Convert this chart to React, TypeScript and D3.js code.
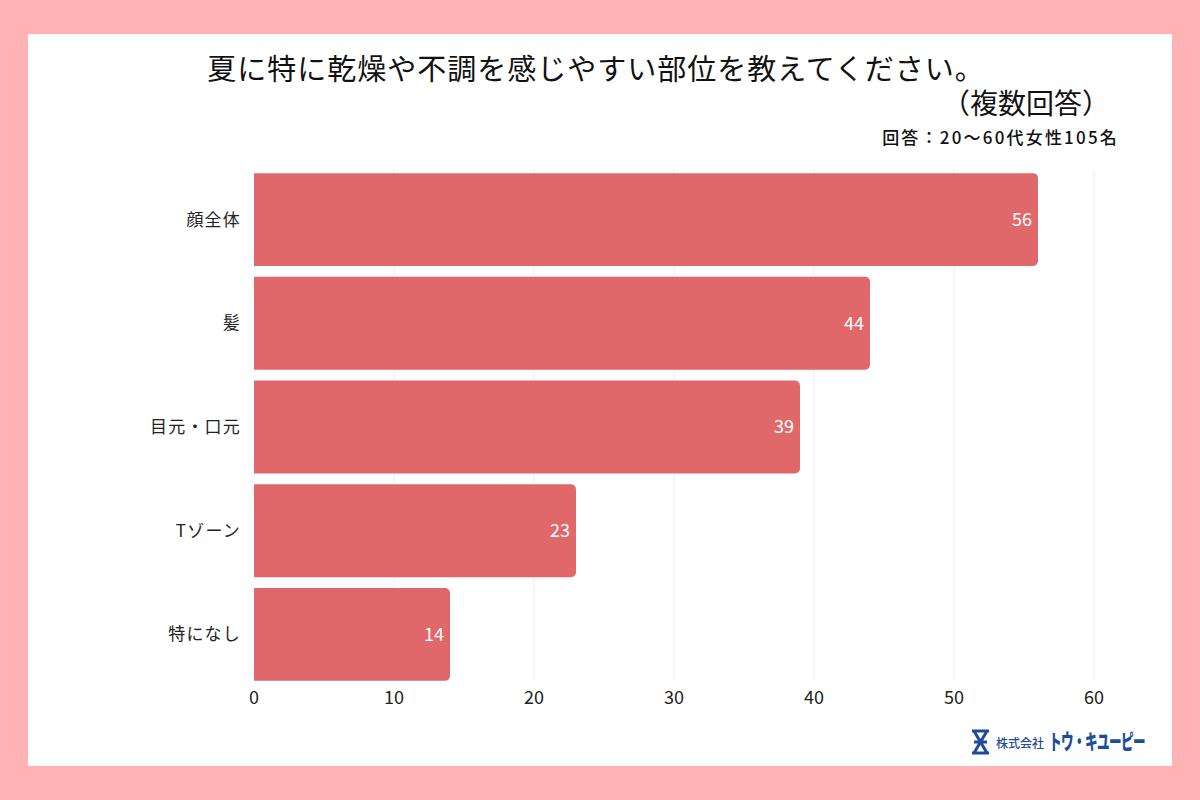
import * as React from "react";
import * as d3 from "d3";

const categories = ["顔全体", "髪", "目元・口元", "Tゾーン", "特になし"];
const counts = [56, 44, 39, 23, 14];
const xTicks = [0, 10, 20, 30, 40, 50, 60];

const title = "夏に特に乾燥や不調を感じやすい部位を教えてください。";
const subtitle = "（複数回答）";
const note = "回答：20〜60代女性105名";

const W = 1200;
const H = 800;
const font = '"Noto Sans CJK JP", "Noto Sans", sans-serif';
const barColor = "#E0676A";
const logoBlue = "#1E4C9A";

function drawChart(svgEl: SVGSVGElement) {
  const svg = d3.select(svgEl);
  svg.selectAll("*").remove();

  // pink frame + white panel
  svg.append("rect").attr("width", W).attr("height", H).attr("fill", "#FFB3B5");
  svg
    .append("rect")
    .attr("x", 28)
    .attr("y", 34)
    .attr("width", 1144)
    .attr("height", 732)
    .attr("fill", "#FFFFFF");

  const x = d3.scaleLinear().domain([0, 60]).range([254, 1094]);
  const y = d3
    .scaleBand<string>()
    .domain(categories)
    .range([169, 685])
    .paddingInner(0.105)
    .paddingOuter(0.04);

  // vertical grid lines
  svg
    .append("g")
    .selectAll("line")
    .data(xTicks.slice(1))
    .join("line")
    .attr("x1", (d) => x(d))
    .attr("x2", (d) => x(d))
    .attr("y1", y.range()[0])
    .attr("y2", y.range()[1] - 4)
    .attr("stroke", "#EDEDF0")
    .attr("stroke-width", 1);

  // bars, rounded on the right end only
  const r = 5;
  const bars = svg.append("g");
  categories.forEach((c, i) => {
    const x0 = x(0);
    const x1 = x(counts[i]);
    const y0 = y(c)!;
    const h = y.bandwidth();
    const p = d3.path();
    p.moveTo(x0, y0);
    p.lineTo(x1 - r, y0);
    p.arcTo(x1, y0, x1, y0 + r, r);
    p.lineTo(x1, y0 + h - r);
    p.arcTo(x1, y0 + h, x1 - r, y0 + h, r);
    p.lineTo(x0, y0 + h);
    p.closePath();
    bars.append("path").attr("d", p.toString()).attr("fill", barColor);

    bars
      .append("text")
      .attr("x", x1 - 6)
      .attr("y", y0 + h / 2)
      .attr("dy", "0.35em")
      .attr("text-anchor", "end")
      .attr("fill", "#FFFFFF")
      .attr("font-family", font)
      .attr("font-size", 18)
      .text(counts[i]);
  });

  // category labels
  svg
    .append("g")
    .selectAll("text")
    .data(categories)
    .join("text")
    .attr("x", 241)
    .attr("y", (d) => y(d)! + y.bandwidth() / 2)
    .attr("dy", "0.35em")
    .attr("text-anchor", "end")
    .attr("fill", "#222222")
    .attr("font-family", font)
    .attr("font-size", 17)
    .attr("letter-spacing", 1.2)
    .text((d) => d);

  // x tick labels
  svg
    .append("g")
    .selectAll("text")
    .data(xTicks)
    .join("text")
    .attr("x", (d) => x(d))
    .attr("y", 698)
    .attr("dy", "0.35em")
    .attr("text-anchor", "middle")
    .attr("fill", "#222222")
    .attr("font-family", font)
    .attr("font-size", 18)
    .text((d) => d);

  // headings
  svg
    .append("text")
    .attr("x", 596)
    .attr("y", 70)
    .attr("dy", "0.35em")
    .attr("text-anchor", "middle")
    .attr("fill", "#111111")
    .attr("font-family", font)
    .attr("font-size", 29)
    .attr("letter-spacing", 1)
    .text(title);
  svg
    .append("text")
    .attr("x", 1110)
    .attr("y", 104)
    .attr("dy", "0.35em")
    .attr("text-anchor", "end")
    .attr("fill", "#111111")
    .attr("font-family", font)
    .attr("font-size", 28)
    .text(subtitle);
  svg
    .append("text")
    .attr("x", 1119)
    .attr("y", 138)
    .attr("dy", "0.35em")
    .attr("text-anchor", "end")
    .attr("fill", "#111111")
    .attr("font-family", font)
    .attr("font-weight", 500)
    .attr("font-size", 17)
    .attr("letter-spacing", 2.2)
    .text(note);

  // company mark in the lower right
  const logo = svg.append("g").attr("transform", "translate(972, 731)");
  logo
    .append("path")
    .attr("d", "M0,0 H17 M0,22 H17 M2,0 L15,22 M15,0 L2,22 M2,11 H15")
    .attr("stroke", logoBlue)
    .attr("stroke-width", 3)
    .attr("fill", "none");
  logo
    .append("text")
    .attr("x", 24)
    .attr("y", 13)
    .attr("dy", "0.35em")
    .attr("fill", logoBlue)
    .attr("font-family", font)
    .attr("font-size", 12)
    .attr("font-weight", 500)
    .text("株式会社");
  // condensed wordmark
  logo
    .append("g")
    .attr("transform", "translate(77, 11) scale(0.6, 1)")
    .append("text")
    .attr("dy", "0.35em")
    .attr("fill", logoBlue)
    .attr("font-family", font)
    .attr("font-size", 21)
    .attr("font-weight", 900)
    .attr("letter-spacing", -1)
    .text("トウ・キユーピー");
}

export default function App() {
  const ref = React.useRef<SVGSVGElement>(null);
  React.useEffect(() => {
    if (ref.current) drawChart(ref.current);
  }, []);
  return (
    <svg
      ref={ref}
      width={W}
      height={H}
      style={{ position: "absolute", left: 0, top: 0, display: "block" }}
    />
  );
}
